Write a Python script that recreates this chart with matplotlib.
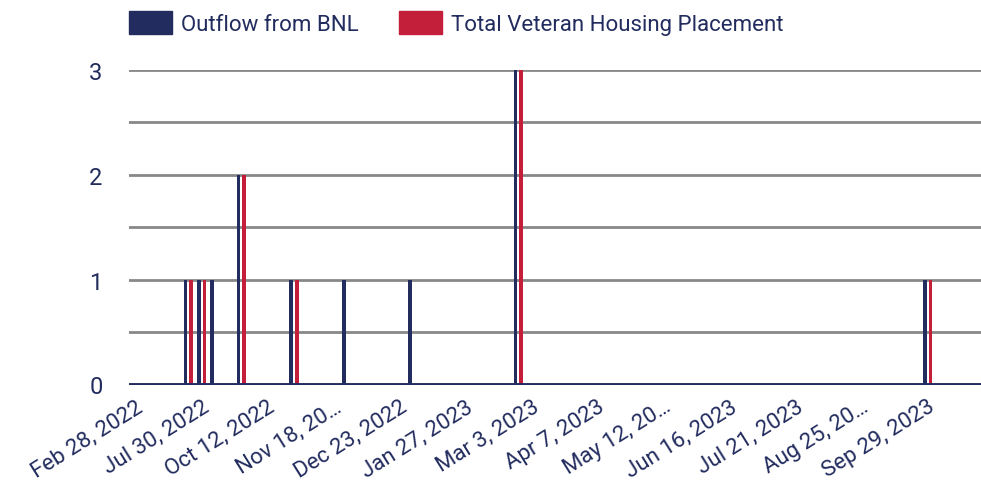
import numpy as np
import matplotlib
matplotlib.use('Agg')
from matplotlib import pyplot as plt
from matplotlib.patches import Patch
from matplotlib.transforms import ScaledTranslation

plt.rcParams['font.family'] = ['Roboto', 'DejaVu Sans']

dates = ['Feb 28, 2022', 'Apr 4, 2022', 'May 9, 2022', 'Jun 13, 2022', 'Jul 22, 2022',
         'Jul 30, 2022', 'Aug 5, 2022', 'Aug 26, 2022', 'Sep 9, 2022', 'Sep 30, 2022',
         'Oct 12, 2022', 'Oct 21, 2022', 'Oct 28, 2022', 'Nov 4, 2022', 'Nov 11, 2022',
         'Nov 18, 2022', 'Nov 25, 2022', 'Dec 2, 2022', 'Dec 9, 2022', 'Dec 16, 2022',
         'Dec 23, 2022', 'Dec 30, 2022', 'Jan 6, 2023', 'Jan 13, 2023', 'Jan 20, 2023',
         'Jan 27, 2023', 'Feb 3, 2023', 'Feb 10, 2023', 'Feb 17, 2023', 'Feb 24, 2023',
         'Mar 3, 2023', 'Mar 10, 2023', 'Mar 17, 2023', 'Mar 24, 2023', 'Mar 31, 2023',
         'Apr 7, 2023', 'Apr 14, 2023', 'Apr 21, 2023', 'Apr 28, 2023', 'May 5, 2023',
         'May 12, 2023', 'May 19, 2023', 'May 26, 2023', 'Jun 2, 2023', 'Jun 9, 2023',
         'Jun 16, 2023', 'Jun 23, 2023', 'Jun 30, 2023', 'Jul 7, 2023', 'Jul 14, 2023',
         'Jul 21, 2023', 'Jul 28, 2023', 'Aug 4, 2023', 'Aug 11, 2023', 'Aug 18, 2023',
         'Aug 25, 2023', 'Sep 1, 2023', 'Sep 8, 2023', 'Sep 15, 2023', 'Sep 22, 2023',
         'Sep 29, 2023', 'Oct 6, 2023', 'Oct 13, 2023', 'Oct 20, 2023']

outflow = [0, 0, 0, 0, 1, 1, 1, 0, 2, 0,
           0, 0, 1, 0, 0, 0, 1, 0, 0, 0,
           0, 1, 0, 0, 0, 0, 0, 0, 0, 3,
           0, 0, 0, 0, 0, 0, 0, 0, 0, 0,
           0, 0, 0, 0, 0, 0, 0, 0, 0, 0,
           0, 0, 0, 0, 0, 0, 0, 0, 0, 0,
           1, 0, 0, 0]

housing = [0, 0, 0, 0, 1, 1, 0, 0, 2, 0,
           0, 0, 1, 0, 0, 0, 0, 0, 0, 0,
           0, 0, 0, 0, 0, 0, 0, 0, 0, 3,
           0, 0, 0, 0, 0, 0, 0, 0, 0, 0,
           0, 0, 0, 0, 0, 0, 0, 0, 0, 0,
           0, 0, 0, 0, 0, 0, 0, 0, 0, 0,
           1, 0, 0, 0]

tick_labels = ['Feb 28, 2022', 'Jul 30, 2022', 'Oct 12, 2022', 'Nov 18, 20…',
               'Dec 23, 2022', 'Jan 27, 2023', 'Mar 3, 2023', 'Apr 7, 2023',
               'May 12, 20…', 'Jun 16, 2023', 'Jul 21, 2023', 'Aug 25, 20…',
               'Sep 29, 2023']

navy = '#222c5e'
red = '#c41f3a'
grey = '#888888'

x = np.arange(len(dates))

fig = plt.figure(figsize=(9.81, 4.81), dpi=100)
ax = fig.add_axes([129/981, 1 - 385.5/481, 1 - 129/981, (385.5 - 70.7)/481])

ax.bar(x - 0.215, outflow, width=0.28, color=navy, zorder=3)
ax.bar(x + 0.215, housing, width=0.28, color=red, zorder=3)

for yv in np.arange(0.5, 3.01, 0.5):
    ax.axhline(yv, color=grey, lw=2.0, zorder=1)
ax.axhline(0, color=navy, lw=2.8, zorder=4)

ax.set_xlim(-0.5, 64.05)
ax.set_ylim(0, 3)
ax.set_yticks([0, 1, 2, 3])
ax.set_xticks(x[::5])
ax.set_xticklabels(tick_labels, rotation=32, ha='right', va='top',
                   rotation_mode='anchor', fontsize=16, color=navy)
shift = ScaledTranslation(-4/100, 0, fig.dpi_scale_trans)
for lab in ax.get_xticklabels():
    lab.set_transform(lab.get_transform() + shift)
ax.tick_params(axis='y', length=0, pad=19, labelsize=17, labelcolor=navy)
ax.tick_params(axis='x', length=0, pad=8)
for s in ax.spines.values():
    s.set_visible(False)

handles = [Patch(color=navy, label='Outflow from BNL'),
           Patch(color=red, label='Total Veteran Housing Placement')]
leg = fig.legend(handles=handles, loc='upper left', bbox_to_anchor=(129/981, 1 - 12/481),
                 ncol=2, frameon=False, fontsize=16, handlelength=1.94, handleheight=1.2,
                 handletextpad=0.4, columnspacing=1.8, borderpad=0, borderaxespad=0)
for t in leg.get_texts():
    t.set_color(navy)

fig.savefig('out.png', dpi=100)
